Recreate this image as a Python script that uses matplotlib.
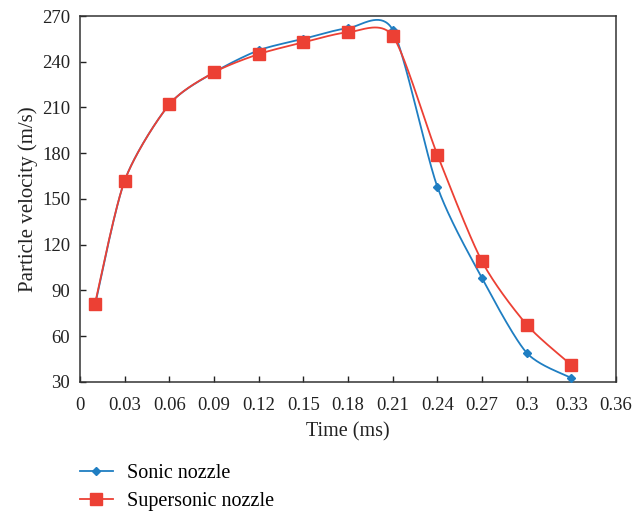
import numpy as np
import matplotlib
matplotlib.use("Agg")
import matplotlib.pyplot as plt

time_ms = [0.01, 0.03, 0.06, 0.09, 0.12, 0.15, 0.18, 0.21, 0.24, 0.27, 0.30, 0.33]
sonic = [80, 162, 212, 233, 247.5, 255, 262, 261, 158, 98, 49, 32.5]
supersonic = [81, 162, 212, 233, 245, 252.7, 259.3, 257, 179, 109, 67.5, 41]
series_labels = ["Sonic nozzle", "Supersonic nozzle"]
xticks = [0, 0.03, 0.06, 0.09, 0.12, 0.15, 0.18, 0.21, 0.24, 0.27, 0.3, 0.33, 0.36]
xtick_labels = ["0", "0.03", "0.06", "0.09", "0.12", "0.15", "0.18", "0.21", "0.24", "0.27", "0.3", "0.33", "0.36"]
yticks = [30, 60, 90, 120, 150, 180, 210, 240, 270]

BLUE = "#1f7ec2"
RED = "#ec4034"


def smooth(x, y, n=40, tension=0.13):
    """Excel-like Bezier smoothing through the data points."""
    x = np.asarray(x, float)
    y = np.asarray(y, float)
    P = np.column_stack([x, y])
    out = []
    for i in range(len(P) - 1):
        p0 = P[i - 1] if i > 0 else P[i]
        p1 = P[i]
        p2 = P[i + 1]
        p3 = P[i + 2] if i + 2 < len(P) else P[i + 1]
        c1 = p1 + (p2 - p0) * tension
        c2 = p2 - (p3 - p1) * tension
        t = np.linspace(0, 1, n)[:, None]
        seg = ((1 - t) ** 3) * p1 + 3 * ((1 - t) ** 2) * t * c1 + 3 * (1 - t) * t ** 2 * c2 + t ** 3 * p2
        out.append(seg if i == 0 else seg[1:])
    s = np.vstack(out)
    return s[:, 0], s[:, 1]


plt.rcParams["font.family"] = ["Liberation Serif", "DejaVu Serif"]

fig = plt.figure(figsize=(6.33, 5.15), dpi=100)
ax = fig.add_axes([0.1264, 0.2588, 0.9731 - 0.1264, 0.9689 - 0.2588])

sx, sy = smooth(time_ms, sonic)
ax.plot(sx, sy, color=BLUE, lw=1.3, zorder=2)
ax.plot(time_ms, sonic, ls="none", marker="D", ms=4.5, color=BLUE, zorder=3)

rx, ry = smooth(time_ms, supersonic)
ax.plot(rx, ry, color=RED, lw=1.3, zorder=2)
ax.plot(time_ms, supersonic, ls="none", marker="s", ms=8.5, color=RED, zorder=4)

ax.set_xlim(0, 0.36)
ax.set_ylim(30, 270)
ax.set_xticks(xticks)
ax.set_xticklabels(xtick_labels)
ax.set_yticks(yticks)
ax.tick_params(direction="in", length=4, width=1, labelsize=13.5, colors="#222222")
ax.tick_params(axis="x", pad=11)
ax.tick_params(axis="y", pad=7)
for sp in ax.spines.values():
    sp.set_color("#333333")
    sp.set_linewidth(1.1)
ax.set_xlabel("Time (ms)", fontsize=14.5, labelpad=6, color="#222222")
ax.set_ylabel("Particle velocity (m/s)", fontsize=15, labelpad=3, color="#222222")

h1, = ax.plot([], [], color=BLUE, lw=1.3, marker="D", ms=4.5, label=series_labels[0])
h2, = ax.plot([], [], color=RED, lw=1.3, marker="s", ms=8.5, label=series_labels[1])
fig.legend(handles=[h1, h2], loc="upper left", bbox_to_anchor=(0.126, 0.1),
           frameon=False, fontsize=14.5, handlelength=1.65, handletextpad=0.7,
           labelspacing=0.45, borderpad=0, borderaxespad=0)

fig.savefig("out.png", dpi=100)
